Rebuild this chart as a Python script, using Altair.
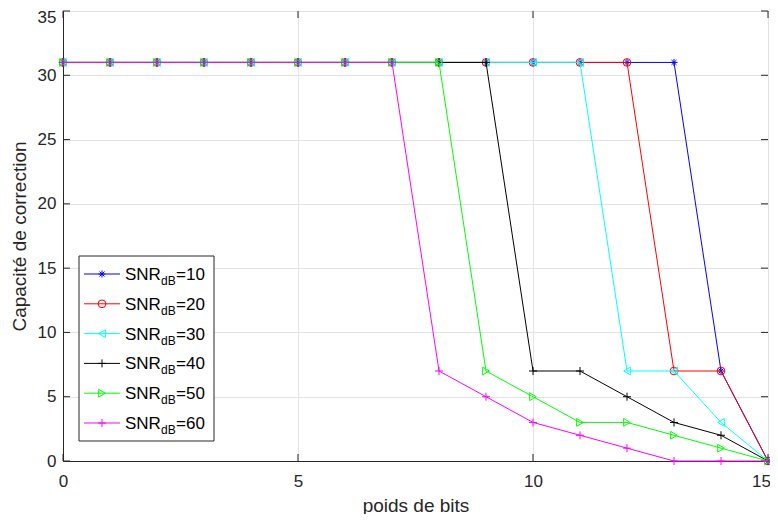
import altair as alt
import pandas as pd

# ---- data -------------------------------------------------------------
x_vals = [0, 1, 2, 3, 4, 5, 6, 7, 8, 9, 10, 11, 12, 13, 14, 15]
snr10 = [31, 31, 31, 31, 31, 31, 31, 31, 31, 31, 31, 31, 31, 31, 7, 0]
snr20 = [31, 31, 31, 31, 31, 31, 31, 31, 31, 31, 31, 31, 31, 7, 7, 0]
snr30 = [31, 31, 31, 31, 31, 31, 31, 31, 31, 31, 31, 31, 7, 7, 3, 0]
snr40 = [31, 31, 31, 31, 31, 31, 31, 31, 31, 31, 7, 7, 5, 3, 2, 0]
snr50 = [31, 31, 31, 31, 31, 31, 31, 31, 31, 7, 5, 3, 3, 2, 1, 0]
snr60 = [31, 31, 31, 31, 31, 31, 31, 31, 7, 5, 3, 2, 1, 0, 0, 0]
series = [snr10, snr20, snr30, snr40, snr50, snr60]
snr_labels = ["10", "20", "30", "40", "50", "60"]
x_ticks = [0, 5, 10, 15]
y_ticks = [0, 5, 10, 15, 20, 25, 30, 35]

# ---- style ------------------------------------------------------------
ASTER = "M-1,0L1,0M0,-1L0,1M-0.7,-0.7L0.7,0.7M-0.7,0.7L0.7,-0.7"
PLUS = "M-1,0L1,0M0,-1L0,1"
colors = ["#0000ff", "#ff0000", "#00ffff", "#000000", "#00ff00", "#ff00ff"]
shapes = [ASTER, "circle", "triangle-left", PLUS, "triangle-right", PLUS]
sizes = [50, 60, 60, 64, 60, 64]

W, H = 705, 450
FONT = "Liberation Sans"
TXT = "#262626"

xscale = alt.Scale(domain=[0, 15], nice=False, zero=False)
yscale = alt.Scale(domain=[0, 35], nice=False, zero=False)

xaxis = alt.Axis(values=x_ticks, grid=True, gridColor="#e3e3e3", tickSize=0,
                 labelPadding=12, labelFontSize=17, labelFont=FONT, labelColor=TXT,
                 labelFlush=False, domainColor=TXT,
                 labelOffset={"condition": {"test": "datum.value == 15", "value": -7},
                              "value": 0},
                 titleFontSize=19, titleFont=FONT, titleFontWeight="normal",
                 titleColor=TXT, titleX=W / 2, titleY=44, titleBaseline="middle")
yaxis = alt.Axis(values=y_ticks, grid=True, gridColor="#e3e3e3", tickSize=0,
                 labelPadding=7, labelFontSize=17, labelFont=FONT, labelColor=TXT,
                 labelFlush=False, domainColor=TXT,
                 labelOffset={"condition": {"test": "datum.value == 35", "value": 6},
                              "value": 0},
                 titleFontSize=19, titleFont=FONT, titleFontWeight="normal",
                 titleColor=TXT, titleX=-44, titleY=H / 2, titleAngle=270,
                 titleAlign="center", titleBaseline="middle")

X = alt.X("x:Q", scale=xscale, axis=xaxis, title="poids de bits")
Y = alt.Y("y:Q", scale=yscale, axis=yaxis, title="Capacité de correction")

layers = []

# inner ticks (MATLAB style)
xt = pd.DataFrame({"x": x_ticks})
yt = pd.DataFrame({"y": y_ticks})
layers.append(alt.Chart(xt).mark_rule(color=TXT, strokeWidth=1).encode(
    x=X, y=alt.value(H), y2=alt.value(H - 7)))
layers.append(alt.Chart(xt).mark_rule(color=TXT, strokeWidth=1).encode(
    x=X, y=alt.value(0), y2=alt.value(7)))
layers.append(alt.Chart(yt).mark_rule(color=TXT, strokeWidth=1).encode(
    y=Y, x=alt.value(0), x2=alt.value(7)))
layers.append(alt.Chart(yt).mark_rule(color=TXT, strokeWidth=1).encode(
    y=Y, x=alt.value(W - 7), x2=alt.value(W)))

# series
for vals, c, s, sz in zip(series, colors, shapes, sizes):
    df = pd.DataFrame({"x": x_vals, "y": vals})
    layers.append(alt.Chart(df).mark_line(color=c, strokeWidth=1).encode(x=X, y=Y))
    layers.append(alt.Chart(df).mark_point(shape=s, color=c, filled=False, size=sz,
                                           strokeWidth=1, opacity=1).encode(x=X, y=Y))

# legend (custom, to allow the subscript)
one = pd.DataFrame({"a": [0]})
layers.append(alt.Chart(one).mark_rect(fill="white", stroke=TXT, strokeWidth=1).encode(
    x=alt.value(16), x2=alt.value(151), y=alt.value(245), y2=alt.value(430)))
FS, SFS = 17, 12
x0 = 62
for i, (lab, c, s, sz) in enumerate(zip(snr_labels, colors, shapes, sizes)):
    yi = 263 + 29.8 * i
    layers.append(alt.Chart(one).mark_rule(color=c, strokeWidth=1).encode(
        x=alt.value(21), x2=alt.value(57), y=alt.value(yi)))
    layers.append(alt.Chart(one).mark_point(shape=s, color=c, filled=False, size=sz,
                                            strokeWidth=1, opacity=1).encode(
        x=alt.value(39), y=alt.value(yi)))
    layers.append(alt.Chart(one).mark_text(text="SNR", font=FONT, fontSize=FS, align="left",
                                           baseline="alphabetic", color="#000000").encode(
        x=alt.value(x0), y=alt.value(yi + 6)))
    layers.append(alt.Chart(one).mark_text(text="dB", font=FONT, fontSize=SFS, align="left",
                                           baseline="alphabetic", color="#000000").encode(
        x=alt.value(x0 + 36), y=alt.value(yi + 11)))
    layers.append(alt.Chart(one).mark_text(text="=" + lab, font=FONT, fontSize=FS, align="left",
                                           baseline="alphabetic", color="#000000").encode(
        x=alt.value(x0 + 51), y=alt.value(yi + 6)))

chart = alt.layer(*layers).properties(
    width=W, height=H,
    autosize=alt.AutoSizeParams(type="none"),
    padding={"left": 55, "top": 3, "right": 2, "bottom": 53},
    background="white",
).configure_view(stroke=TXT, strokeWidth=1)

chart.save("out.html", embed_options={"renderer": "svg", "actions": False})
